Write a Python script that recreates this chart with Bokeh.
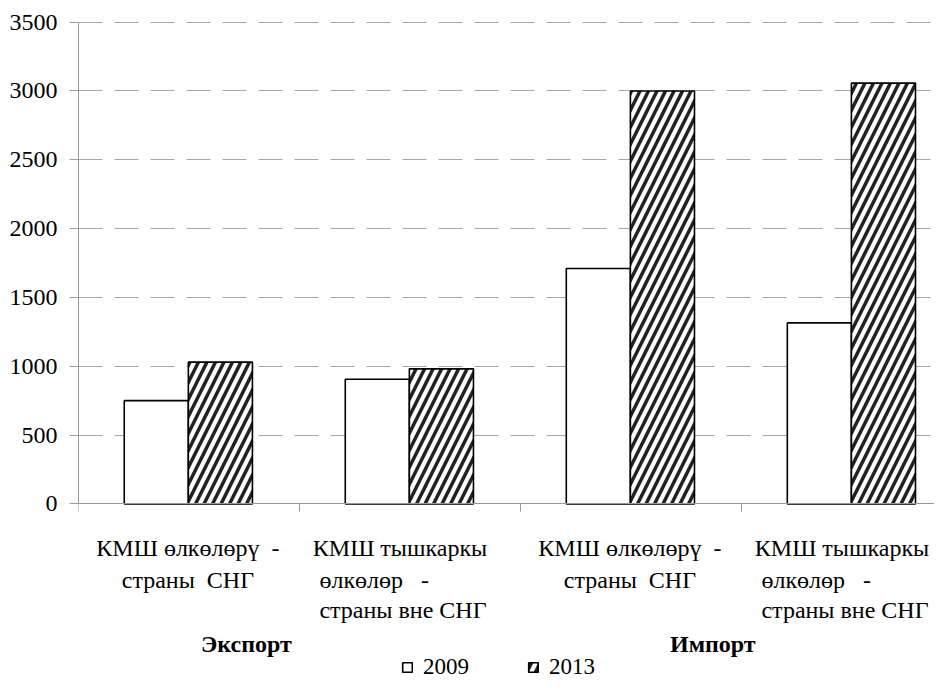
from bokeh.plotting import figure
from bokeh.models import (ColumnDataSource, FixedTicker, Legend, LegendItem, Range1d)
from bokeh.core.properties import value
from bokeh.embed import file_html
from bokeh.resources import INLINE

# ---- data ----
categories = [
    ["КМШ өлкөлөрү  -", "страны  СНГ"],
    ["КМШ тышкаркы", "өлкөлөр   -", "страны вне СНГ"],
    ["КМШ өлкөлөрү  -", "страны  СНГ"],
    ["КМШ тышкаркы", "өлкөлөр   -", "страны вне СНГ"],
]
groups = ["Экспорт", "Импорт"]
years = ["2009", "2013"]
v2009 = [750, 905, 1710, 1315]
v2013 = [1030, 981, 3000, 3057]
y_ticks = [0, 500, 1000, 1500, 2000, 2500, 3000, 3500]

FONT = "Liberation Serif, DejaVu Serif, Noto Serif, Times New Roman, serif"
slot = list(range(len(categories)))


def keep_spaces(t):
    return t.replace("  ", "\u00a0\u00a0")


p = figure(width=934, height=681, output_backend="svg", toolbar_location=None,
           x_range=Range1d(0, 3.873), y_range=Range1d(-1291, 3505),
           min_border_left=78, min_border_right=0, min_border_top=21,
           min_border_bottom=0)
p.outline_line_color = None
p.background_fill_color = "white"

bw = 0.29
src = ColumnDataSource(dict(
    x1=[s + 0.497 - bw / 2 for s in slot],
    x2=[s + 0.497 + bw / 2 for s in slot],
    v1=v2009, v2=v2013))

r1 = p.vbar(x="x1", top="v1", width=bw, source=src, fill_color="white",
            line_color="black", line_width=1.6)
r2 = p.vbar(x="x2", top="v2", width=bw, source=src, fill_color="white",
            line_color="black", line_width=1.6,
            hatch_pattern="/", hatch_color="#222222", hatch_weight=3.5,
            hatch_scale=17)

# y axis
p.yaxis.ticker = FixedTicker(ticks=y_ticks)
p.yaxis.bounds = (y_ticks[0], y_ticks[-1])
p.yaxis.axis_line_color = "#999999"
p.yaxis.major_tick_line_color = "#999999"
p.yaxis.major_tick_out = 9
p.yaxis.major_tick_in = 0
p.yaxis.minor_tick_line_color = None
p.yaxis.major_label_text_font = FONT
p.yaxis.major_label_text_font_size = "24px"
p.yaxis.major_label_text_color = "black"
p.yaxis.major_label_standoff = 12

# x axis drawn at value 0
bounds = list(range(len(categories) + 1))
p.xaxis.fixed_location = 0
p.xaxis.ticker = FixedTicker(ticks=bounds)
p.xaxis.major_label_overrides = {b: "" for b in bounds}
p.xaxis.axis_line_color = "#999999"
p.xaxis.major_tick_line_color = "#999999"
p.xaxis.major_tick_out = 8
p.xaxis.major_tick_in = 0
p.xaxis.minor_tick_line_color = None

p.xgrid.grid_line_color = None
p.ygrid.grid_line_color = "#a6a6a6"
p.ygrid.grid_line_dash = "24 12"
p.ygrid.grid_line_width = 1

# category labels below the axis
line_y = [-324, -550, -768]
cx, cy, ct, ca = [], [], [], []
for i, lines in enumerate(categories):
    for j, t in enumerate(lines):
        if len(lines) == 2:
            cx.append(i + 0.495); ca.append("center")
        elif j == 0:
            cx.append(i + 0.06); ca.append("left")
        else:
            cx.append(i + 0.09); ca.append("left")
        cy.append(line_y[j]); ct.append(keep_spaces(t))
lab_src = ColumnDataSource(dict(x=cx, y=cy, text=ct, align=ca))
p.text(x="x", y="y", text="text", text_align="align", source=lab_src,
       text_font=value(FONT), text_font_size="24px", text_color="black",
       text_baseline="alphabetic")

group_x = [0.76, 2.87]
grp_src = ColumnDataSource(dict(x=group_x, y=[-1015] * len(groups), text=groups))
p.text(x="x", y="y", text="text", source=grp_src, text_align="center",
       text_font=value(FONT), text_font_size="24px", text_font_style="bold",
       text_color="black", text_baseline="alphabetic")

legend = Legend(items=[LegendItem(label=years[0], renderers=[r1]),
                       LegendItem(label=years[1], renderers=[r2])],
                orientation="horizontal", location=(323, 1),
                glyph_width=12, glyph_height=12, label_standoff=10,
                spacing=58, padding=0, margin=0,
                label_text_font=FONT, label_text_font_size="23px",
                label_text_color="black",
                label_height=22, background_fill_alpha=0,
                border_line_color=None)
p.add_layout(legend)

open("out.html", "w").write(file_html(p, INLINE))
